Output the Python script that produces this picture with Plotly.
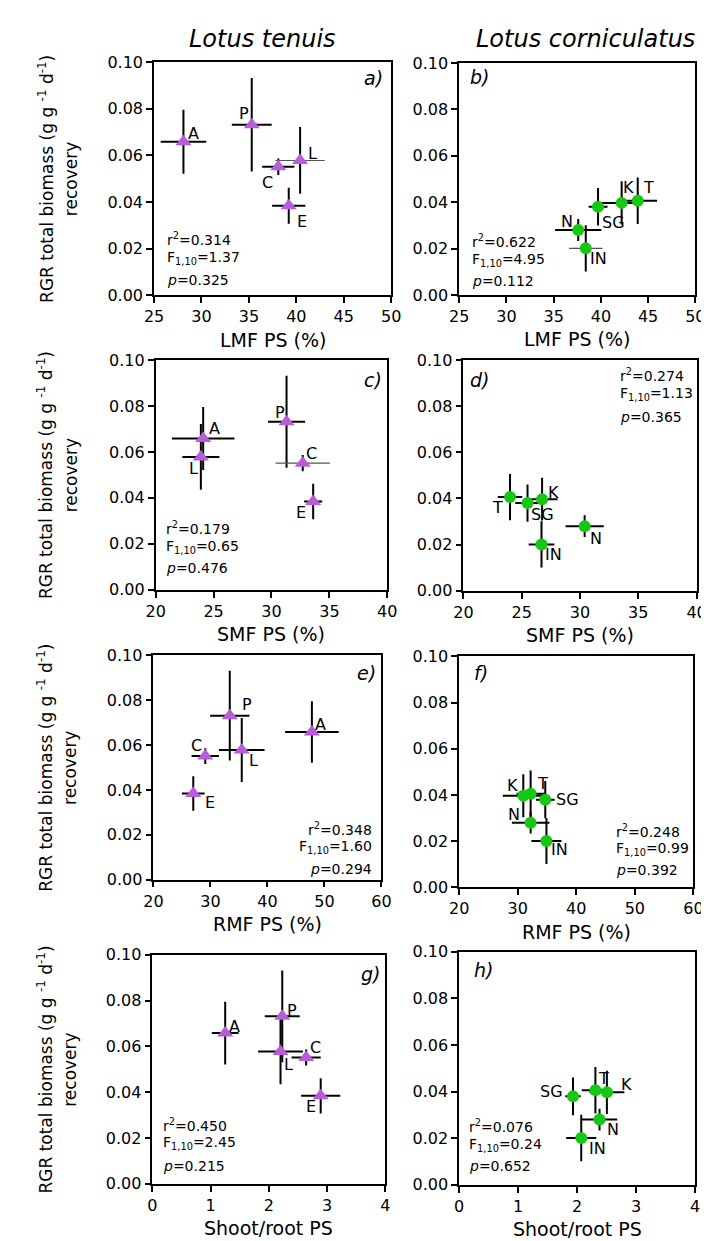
import plotly.graph_objects as go

W, H = 709, 1241

# ---------------- data ----------------
lt_names = ["A", "P", "C", "L", "E"]
lt_rgr = [0.0658, 0.0731, 0.0551, 0.0578, 0.0384]
lt_rgr_err = [0.0137, 0.0200, 0.0035, 0.0143, 0.0077]
lt_lmf = [28.1, 35.3, 38.1, 40.4, 39.2]
lt_lmf_err = [2.4, 2.1, 1.7, 2.6, 1.75]
lt_smf = [24.1, 31.3, 32.7, 23.9, 33.6]
lt_smf_err = [2.7, 1.6, 2.35, 1.6, 0.78]
lt_rmf = [47.8, 33.4, 29.1, 35.5, 27.0]
lt_rmf_err = [4.7, 3.45, 2.4, 4.0, 2.0]
lt_sr = [1.25, 2.23, 2.64, 2.20, 2.89]
lt_sr_err = [0.23, 0.30, 0.25, 0.385, 0.336]

lc_names = ["N", "IN", "SG", "K", "T"]
lc_rgr = [0.0280, 0.0201, 0.0380, 0.0397, 0.0406]
lc_rgr_err = [0.0047, 0.0100, 0.0081, 0.0093, 0.0100]
lc_lmf = [37.6, 38.4, 39.7, 42.2, 43.9]
lc_lmf_err = [2.45, 1.77, 1.0, 2.2, 2.05]
lc_smf = [30.4, 26.7, 25.5, 26.75, 24.0]
lc_smf_err = [1.64, 1.1, 1.05, 1.33, 1.05]
lc_rmf = [32.2, 34.9, 34.7, 30.95, 32.2]
lc_rmf_err = [3.2, 2.57, 1.6, 3.5, 2.4]
lc_sr = [2.38, 2.07, 1.93, 2.505, 2.31]
lc_sr_err = [0.30, 0.255, 0.13, 0.296, 0.23]

y_ticks = [0.00, 0.02, 0.04, 0.06, 0.08, 0.10]
x_ticks_lmf = [25, 30, 35, 40, 45, 50]
x_ticks_smf = [20, 25, 30, 35, 40]
x_ticks_rmf = [20, 30, 40, 50, 60]
x_ticks_sr = [0, 1, 2, 3, 4]

stats = {
    "a": ["r<sup>2</sup>=0.314", "F<sub>1,10</sub>=1.37", "<i>p</i>=0.325"],
    "b": ["r<sup>2</sup>=0.622", "F<sub>1,10</sub>=4.95", "<i>p</i>=0.112"],
    "c": ["r<sup>2</sup>=0.179", "F<sub>1,10</sub>=0.65", "<i>p</i>=0.476"],
    "d": ["r<sup>2</sup>=0.274", "F<sub>1,10</sub>=1.13", "<i>p</i>=0.365"],
    "e": ["r<sup>2</sup>=0.348", "F<sub>1,10</sub>=1.60", "<i>p</i>=0.294"],
    "f": ["r<sup>2</sup>=0.248", "F<sub>1,10</sub>=0.99", "<i>p</i>=0.392"],
    "g": ["r<sup>2</sup>=0.450", "F<sub>1,10</sub>=2.45", "<i>p</i>=0.215"],
    "h": ["r<sup>2</sup>=0.076", "F<sub>1,10</sub>=0.24", "<i>p</i>=0.652"],
}

# ---------------- styles / layout ----------------
FONT = "DejaVu Sans"
PURPLE = "#B85CDA"
GREEN = "#14C814"

def px(x):
    return x / W

def py(y):
    return 1 - y / H

panels = [
    dict(k="a", x=lt_lmf, xe=lt_lmf_err, y=lt_rgr, ye=lt_rgr_err, names=lt_names, sp="lt",
         box=(140, 384, 45.7, 282.7), xt=x_ticks_lmf, title="LMF PS (%)", thin=[3],
         lab=[(10, -8), (-8, -11), (-11, 16), (12, -7), (13, 16)],
         st=(151, [225, 244.3, 266.7], "left"), pl=(378, 61.7, "right")),
    dict(k="b", x=lc_lmf, xe=lc_lmf_err, y=lc_rgr, ye=lc_rgr_err, names=lc_names, sp="lc",
         box=(454, 697, 46.7, 282.3), xt=x_ticks_lmf, title="LMF PS (%)", thin=[1],
         lab=[(-11, -9), (13, 10), (15, 16), (7, -15), (11, -13)],
         st=(465, [227.7, 246.7, 268.3], "left"), pl=(463, 60.7, "left")),
    dict(k="c", x=lt_smf, xe=lt_smf_err, y=lt_rgr, ye=lt_rgr_err, names=lt_names, sp="lt",
         box=(141.7, 380, 348.3, 581.7), xt=x_ticks_smf, title="SMF PS (%)", thin=[2],
         lab=[(11, -10), (-7, -9), (9, -10), (-7, 12), (-12, 11)],
         st=(150.7, [519, 538.3, 559.3], "left"), pl=(377, 368.3, "right")),
    dict(k="d", x=lc_smf, xe=lc_smf_err, y=lc_rgr, ye=lc_rgr_err, names=lc_names, sp="lc",
         box=(458.3, 698.3, 348.3, 582.7), xt=x_ticks_smf, title="SMF PS (%)", thin=[],
         lab=[(11, 12), (12, 10), (15, 11), (11, -7), (-13, 10)],
         st=(617, [364, 383.3, 406], "left"), pl=(463, 368.3, "left")),
    dict(k="e", x=lt_rmf, xe=lt_rmf_err, y=lt_rgr, ye=lt_rgr_err, names=lt_names, sp="lt",
         box=(139.3, 374, 648.3, 876), xt=x_ticks_rmf, title="RMF PS (%)", thin=[],
         lab=[(9, -8), (17, -11), (-9, -11), (12, 11), (17, 9)],
         st=(366, [825, 843.3, 865], "right"), pl=(370, 666.7, "right")),
    dict(k="f", x=lc_rmf, xe=lc_rmf_err, y=lc_rgr, ye=lc_rgr_err, names=lc_names, sp="lc",
         box=(454, 695, 649.3, 884), xt=x_ticks_rmf, title="RMF PS (%)", thin=[],
         lab=[(-17, -8), (13, 8), (22, 0), (-11, -10), (12, -10)],
         st=(613, [826.7, 845, 866.7], "left"), pl=(467, 666.7, "left")),
    dict(k="g", x=lt_sr, xe=lt_sr_err, y=lt_rgr, ye=lt_rgr_err, names=lt_names, sp="lt",
         box=(138.3, 378, 952.3, 1185), xt=x_ticks_sr, title="Shoot/root PS", thin=[],
         lab=[(9, -7), (10, -6), (9, -10), (8, 13), (-10, 11)],
         st=(147.3, [1125, 1144, 1166.7], "left"), pl=(375, 971.7, "right")),
    dict(k="h", x=lc_sr, xe=lc_sr_err, y=lc_rgr, ye=lc_rgr_err, names=lc_names, sp="lc",
         box=(454, 696.7, 949.3, 1186), xt=x_ticks_sr, title="Shoot/root PS", thin=[],
         lab=[(13, 10), (16, 11), (-21, -5), (20, -8), (8, -12)],
         st=(462.3, [1126.7, 1145.7, 1166.7], "left"), pl=(467, 968.3, "left")),
]

fig = go.Figure()
annotations = []
layout_axes = {}

def subset(arr, idx):
    return [arr[j] for j in idx]

for i, p in enumerate(panels, start=1):
    xa = "x" if i == 1 else f"x{i}"
    ya = "y" if i == 1 else f"y{i}"
    xkey = "xaxis" if i == 1 else f"xaxis{i}"
    ykey = "yaxis" if i == 1 else f"yaxis{i}"
    x0, x1, y0, y1 = p["box"]
    is_lt = p["sp"] == "lt"
    n = len(p["x"])
    normal = [j for j in range(n) if j not in p["thin"]]
    # error bars (regular)
    for idx, xthick, xcol in ((normal, 2, "black"), (p["thin"], 1.2, "#555555")):
        if not idx:
            continue
        fig.add_trace(go.Scatter(
            x=subset(p["x"], idx), y=subset(p["y"], idx), mode="markers", xaxis=xa, yaxis=ya,
            marker=dict(size=1, color="rgba(0,0,0,0)"),
            error_x=dict(type="data", array=subset(p["xe"], idx), visible=True,
                         thickness=xthick, width=0, color=xcol),
            error_y=dict(type="data", array=subset(p["ye"], idx), visible=True,
                         thickness=2, width=0, color="black"),
            showlegend=False, cliponaxis=False, hoverinfo="skip",
        ))
    # markers on top
    fig.add_trace(go.Scatter(
        x=p["x"], y=p["y"], mode="markers", xaxis=xa, yaxis=ya,
        marker=dict(symbol="triangle-up" if is_lt else "circle",
                    size=14 if is_lt else 12,
                    color=PURPLE if is_lt else GREEN, line=dict(width=0)),
        showlegend=False, cliponaxis=False,
    ))
    axis_common = dict(showline=True, linecolor="black", linewidth=1.6, mirror=True,
                       ticks="outside", ticklen=6, tickwidth=1.5, tickcolor="black",
                       showgrid=False, zeroline=False,
                       tickfont=dict(family=FONT, size=16, color="black"))
    xt = p["xt"]
    layout_axes[xkey] = dict(domain=[px(x0), px(x1)], range=[xt[0], xt[-1]], tickvals=xt,
                             ticktext=[str(v) for v in xt], anchor=ya, **axis_common)
    layout_axes[ykey] = dict(domain=[py(y1), py(y0)], range=[y_ticks[0], y_ticks[-1]],
                             tickvals=y_ticks, ticktext=[f"{v:.2f}" for v in y_ticks],
                             anchor=xa, **axis_common)
    # point labels
    for name, xv, yv, (dx, dy) in zip(p["names"], p["x"], p["y"], p["lab"]):
        annotations.append(dict(x=xv, y=yv, xref=xa, yref=ya, text=name, showarrow=False,
                                xshift=dx, yshift=-dy, xanchor="center", yanchor="middle",
                                font=dict(family=FONT, size=16, color="black")))
    # stats
    sx, sys_, anc = p["st"]
    for txt, yy in zip(stats[p["k"]], sys_):
        annotations.append(dict(x=px(sx), y=py(yy), xref="paper", yref="paper", text=txt,
                                showarrow=False, xanchor=anc, yanchor="middle",
                                font=dict(family=FONT, size=14, color="black")))
    # panel letter
    lx, ly, lanc = p["pl"]
    annotations.append(dict(x=px(lx), y=py(ly), xref="paper", yref="paper",
                            text=f"<i>{p['k']})</i>", showarrow=False, xanchor=lanc,
                            yanchor="middle", font=dict(family=FONT, size=19, color="black")))
    # x title
    annotations.append(dict(x=px((x0 + x1) / 2), y=py(y1 + 45), xref="paper", yref="paper",
                            text=p["title"], showarrow=False, xanchor="center", yanchor="middle",
                            font=dict(family=FONT, size=19, color="black")))
    # y title (left column only)
    if is_lt:
        yc = (y0 + y1) / 2
        annotations.append(dict(x=px(28), y=py(yc), xref="paper", yref="paper",
                                text="RGR total biomass (g g <sup>-1</sup> d<sup>-1</sup>)",
                                textangle=-90, showarrow=False, xanchor="center", yanchor="middle",
                                font=dict(family=FONT, size=17, color="black")))
        annotations.append(dict(x=px(54), y=py(yc), xref="paper", yref="paper",
                                text="recovery", textangle=-90, showarrow=False,
                                xanchor="center", yanchor="middle",
                                font=dict(family=FONT, size=17, color="black")))

# column titles
annotations.append(dict(x=px(252), y=py(22), xref="paper", yref="paper", text="<i>Lotus tenuis</i>",
                        showarrow=False, xanchor="center", yanchor="middle",
                        font=dict(family=FONT, size=24, color="black")))
annotations.append(dict(x=px(584), y=py(22), xref="paper", yref="paper",
                        text="<i>Lotus corniculatus</i>", showarrow=False, xanchor="center",
                        yanchor="middle", font=dict(family=FONT, size=24, color="black")))

fig.update_layout(
    width=W, height=H, margin=dict(l=0, r=0, t=0, b=0),
    paper_bgcolor="white", plot_bgcolor="white",
    annotations=annotations, showlegend=False,
    **layout_axes,
)

fig.write_html("out.html")
